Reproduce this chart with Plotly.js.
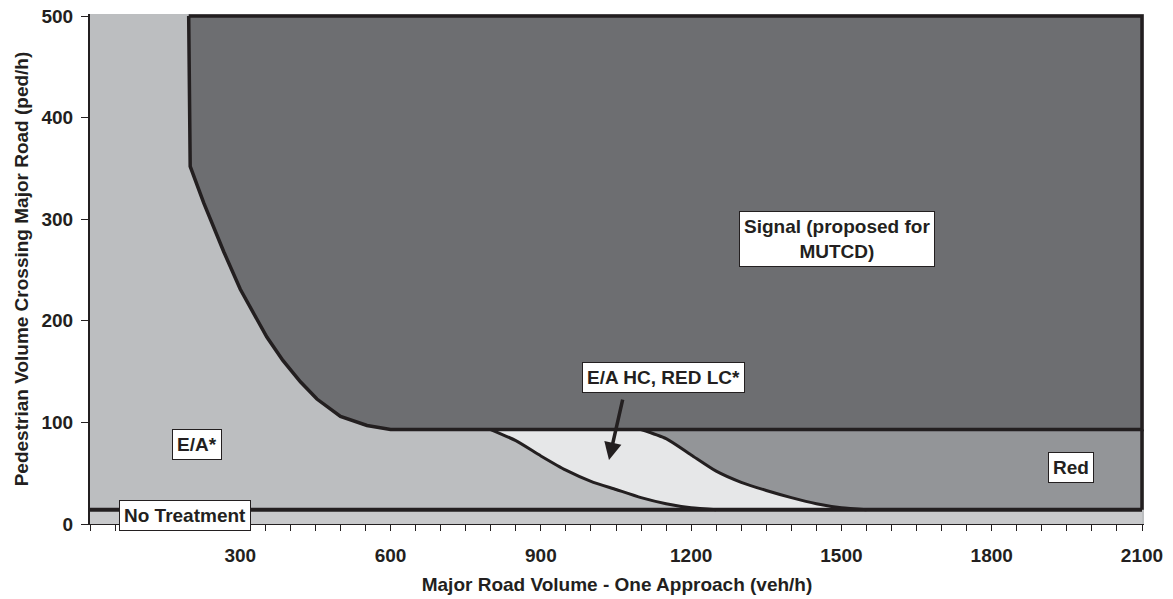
<!DOCTYPE html>
<html>
<head>
<meta charset="utf-8">
<script src="https://cdn.plot.ly/plotly-3.0.1.min.js"></script>
<style>html,body{margin:0;padding:0;background:#fff;}#chart{width:1173px;height:599px;}</style>
</head>
<body>
<div id="chart"></div>
<script>
// ---- data ----
const xRange = [0, 2104];
const yRange = [0, 502];
const treatmentLevel = 14;      // "No Treatment" threshold (ped/h)
const signalLevel = 93;         // lower edge of the signal area (ped/h)
const xMax = 2100;
const yMax = 500;

// signal boundary curve (veh/h, ped/h)
const signalCurveX = [197, 200, 227, 247, 267, 300, 327, 353, 385, 420, 453, 500, 553, 600];
const signalCurveY = [500, 352, 316, 291, 268, 231, 207, 184, 161, 140, 123, 106, 97, 93];

// left boundary of "E/A HC, RED LC" region
const hcCurveX = [800, 850, 900, 950, 1000, 1050, 1100, 1150, 1200, 1250];
const hcCurveY = [93, 82, 67, 53, 42, 34, 26, 20, 16, 14];

// left boundary of "Red" region
const redCurveX = [1100, 1150, 1200, 1250, 1300, 1350, 1400, 1450, 1500, 1550];
const redCurveY = [93, 84, 68, 52, 41, 33, 26, 20, 16, 14];

const xTickVals = [];
for (let v = 0; v <= 2100; v += 50) xTickVals.push(v);
const xTickLabels = xTickVals.map(v => (v > 0 && v % 300 === 0) ? String(v) : '');
const yTickVals = [0, 100, 200, 300, 400, 500];

const labels = [
  {text: 'Signal (proposed for<br>MUTCD)', x: 1492, y: 281},
  {text: 'E/A HC, RED LC*', x: 1144, y: 144},
  {text: 'E/A*', x: 213, y: 78},
  {text: 'No Treatment', x: 190, y: 8},
  {text: 'Red', x: 1959, y: 56}
];
const arrowTail = {x: 1064, y: 124};
const arrowTip = {x: 1036, y: 63};

// ---- colours ----
const cBlack = '#231f20';
const cSignal = '#6d6e71';
const cEA = '#bcbec0';
const cRed = '#939598';
const cHC = '#e6e7e8';
const cNone = '#c8c9cb';

// ---- traces ----
const traces = [];
traces.push({x: [0, xMax, xMax, 0], y: [0, 0, treatmentLevel, treatmentLevel],
  fill: 'toself', fillcolor: cNone, mode: 'lines', line: {width: 0}, hoverinfo: 'skip'});
traces.push({x: redCurveX.concat([xMax, xMax]), y: redCurveY.concat([treatmentLevel, signalLevel]),
  fill: 'toself', fillcolor: cRed, mode: 'lines', line: {width: 0}, hoverinfo: 'skip'});
traces.push({x: hcCurveX.concat(redCurveX.slice().reverse()),
  y: hcCurveY.concat(redCurveY.slice().reverse()),
  fill: 'toself', fillcolor: cHC, mode: 'lines', line: {width: 0}, hoverinfo: 'skip'});
traces.push({x: hcCurveX, y: hcCurveY, mode: 'lines', line: {color: cBlack, width: 3, shape: 'spline', smoothing: 0.6}, hoverinfo: 'skip'});
traces.push({x: redCurveX, y: redCurveY, mode: 'lines', line: {color: cBlack, width: 3, shape: 'spline', smoothing: 0.6}, hoverinfo: 'skip'});
traces.push({x: [xMax, xMax], y: [treatmentLevel, signalLevel], mode: 'lines', line: {color: cBlack, width: 3.5}, hoverinfo: 'skip'});
traces.push({x: signalCurveX.concat([xMax, xMax, signalCurveX[0]]),
  y: signalCurveY.concat([signalLevel, yMax, yMax]),
  fill: 'toself', fillcolor: cSignal, mode: 'lines', line: {color: cBlack, width: 3.5}, hoverinfo: 'skip'});
traces.push({x: [0, xMax], y: [treatmentLevel, treatmentLevel], mode: 'lines', line: {color: cBlack, width: 4}, hoverinfo: 'skip'});

const fam = 'Liberation Sans, Arial, Helvetica, sans-serif';
const font = {family: fam, size: 19, color: cBlack, weight: 'bold'};

const annotations = labels.map(l => ({
  x: l.x, y: l.y, xref: 'x', yref: 'y', text: '<b>' + l.text + '</b>', showarrow: false,
  font: {family: fam, size: 19, color: cBlack},
  bgcolor: '#ffffff', bordercolor: cBlack, borderwidth: 1, borderpad: 4, align: 'center'
}));
annotations.push({x: arrowTip.x, y: arrowTip.y, ax: arrowTail.x, ay: arrowTail.y, axref: 'x', ayref: 'y',
  xref: 'x', yref: 'y', text: '', showarrow: true, arrowhead: 2, arrowsize: 1, arrowwidth: 3.5, arrowcolor: cBlack});

const layout = {
  width: 1173, height: 599,
  margin: {l: 90, r: 29, t: 14, b: 75},
  paper_bgcolor: '#ffffff', plot_bgcolor: cEA,
  showlegend: false,
  font: font,
  xaxis: {
    range: xRange, tickmode: 'array', tickvals: xTickVals, ticktext: xTickLabels,
    ticks: 'outside', ticklen: 6, tickwidth: 1, tickcolor: cBlack,
    showgrid: false, zeroline: false, showline: true, linecolor: cBlack, linewidth: 1,
    tickfont: {family: fam, size: 19, color: cBlack, weight: 'bold'},
    ticklabelstandoff: 8,
    title: {text: '<b>Major Road Volume - One Approach (veh/h)</b>', font: {family: fam, size: 19, color: cBlack}, standoff: 12},
    automargin: false, fixedrange: true
  },
  yaxis: {
    range: yRange, tickmode: 'array', tickvals: yTickVals,
    ticks: 'outside', ticklen: 7, tickwidth: 1, tickcolor: cBlack,
    showgrid: false, zeroline: false, showline: true, linecolor: cBlack, linewidth: 2,
    tickfont: {family: fam, size: 19, color: cBlack, weight: 'bold'},
    ticklabelstandoff: 4,
    title: {text: '<b>Pedestrian Volume Crossing Major Road (ped/h)</b>', font: {family: fam, size: 19, color: cBlack}, standoff: 8},
    automargin: false, fixedrange: true
  },
  annotations: annotations
};

Plotly.newPlot('chart', traces, layout, {staticPlot: true, displayModeBar: false});
</script>
</body>
</html>
